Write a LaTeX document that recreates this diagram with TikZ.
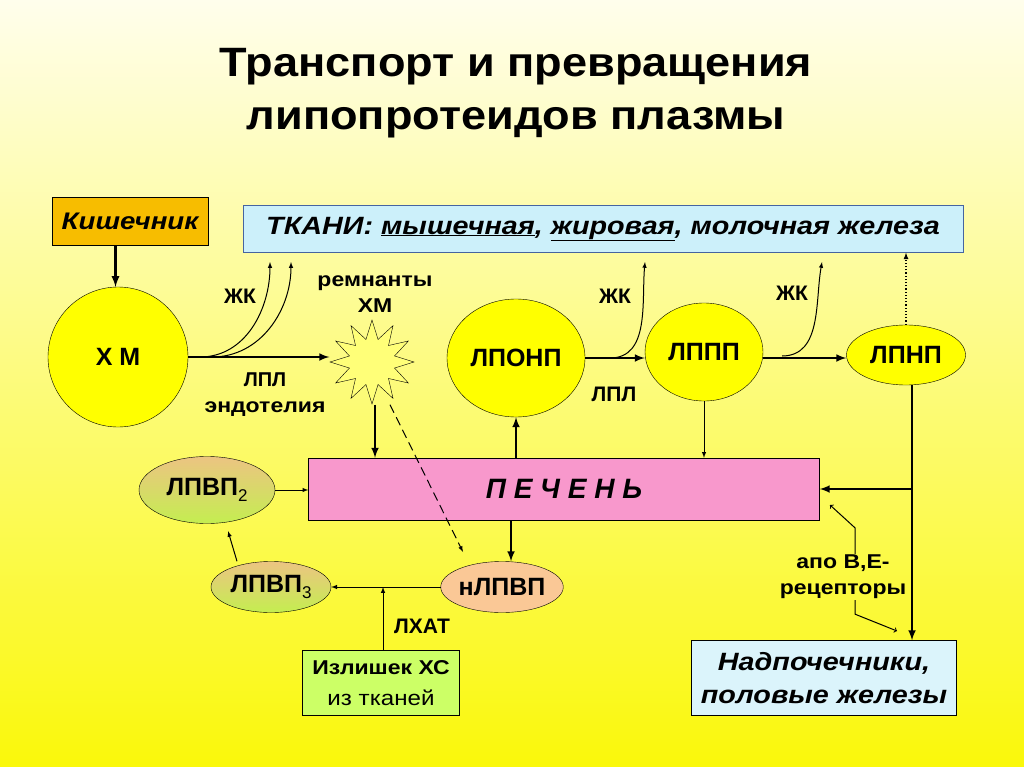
\documentclass[tikz,border=0pt]{standalone}
\usepackage{fontspec}
\setmainfont{Liberation Sans}[FakeStretch=1.15]
\newfontfamily\titlefont[FakeStretch=1.1]{Liberation Sans}
\newfontfamily\capsfont{Liberation Sans}
\usetikzlibrary{arrows,shapes.geometric,positioning}
\definecolor{bgtop}{RGB}{255,254,236}
\definecolor{bgbot}{RGB}{250,248,10}
\definecolor{lpyellow}{RGB}{255,255,0}
\definecolor{starfill}{RGB}{255,255,120}
\definecolor{kishfill}{RGB}{247,189,0}
\definecolor{tkanfill}{RGB}{204,240,250}
\definecolor{tkanline}{RGB}{70,100,160}
\definecolor{liverfill}{RGB}{248,152,204}
\definecolor{hdltop}{RGB}{236,196,130}
\definecolor{hdlbot}{RGB}{196,238,80}
\definecolor{peach}{RGB}{250,200,150}
\definecolor{izlfill}{RGB}{204,255,102}
\begin{document}
\begin{tikzpicture}[x=1pt,y=-1pt,>=latex,
    lbl/.style={font=\bfseries\fontsize{20}{26}\selectfont, align=center, inner sep=1pt},
    caplbl/.style={font=\capsfont\bfseries\fontsize{21}{26}\selectfont, inner sep=1pt},
    blob/.style={ellipse, draw, thin, inner sep=0pt, font=\capsfont\bfseries\fontsize{25}{28}\selectfont},
    panel/.style={rectangle, draw, thin, inner sep=0pt, align=center},
    fat/.style={line width=2.4pt, ->},
    slim/.style={line width=1pt, ->}]

    % background
    \shade[top color=bgtop, bottom color=bgbot] (0,0) rectangle (1024,767);
    \useasboundingbox (0,0) rectangle (1024,767);

    % title
    \node[anchor=base, font=\titlefont\bfseries\fontsize{41}{48}\selectfont] (title1) at (516,77) {Транспорт и превращения};
    \node[anchor=base, font=\titlefont\bfseries\fontsize{41}{48}\selectfont] (title2) at (516,130) {липопротеидов плазмы};

    % boxes
    \node[panel, fill=kishfill, minimum width=156pt, minimum height=48pt,
          font=\bfseries\itshape\fontsize{24}{26}\selectfont] (kish) at (130,221) {Кишечник};
    \node[panel, draw=tkanline, fill=tkanfill, minimum width=720pt, minimum height=47pt,
          font=\bfseries\itshape\fontsize{25}{26}\selectfont] (tkani) at (603,229)
          {ТКАНИ: \underline{мышечная}, \underline{жировая}, молочная железа};
    \node[panel, fill=liverfill, minimum width=511pt, minimum height=62pt,
          font=\capsfont\bfseries\itshape\fontsize{28}{30}\selectfont] (liver) at (564,489)
          {П Е Ч Е Н Ь};
    \node[panel, fill=izlfill, minimum width=157pt, minimum height=65pt,
          font=\fontsize{20}{31}\selectfont] (izl) at (381,683) {\textbf{Излишек ХС}\\\fontsize{21}{31}\selectfont из тканей};
    \node[panel, fill=tkanfill!70!white, minimum width=265pt, minimum height=75pt,
          font=\bfseries\itshape\fontsize{25}{33}\selectfont] (nadp) at (824,678) {Надпочечники,\\половые железы};

    % lipoproteins
    \node[blob, fill=lpyellow, minimum width=140pt, minimum height=140pt] (xm) at (118,357) {Х М};
    \node[star, star points=12, star point ratio=1.8, draw, thin, fill=starfill,
          minimum size=84pt, inner sep=0pt] (rem) at (372,362) {};
    \node[blob, fill=lpyellow, minimum width=138pt, minimum height=118pt] (lponp) at (516,358) {ЛПОНП};
    \node[blob, fill=lpyellow, minimum width=118pt, minimum height=98pt] (lppp) at (704,352) {ЛППП};
    \node[blob, fill=lpyellow, minimum width=119pt, minimum height=60pt] (lpnp) at (906,355) {ЛПНП};
    \node[blob, top color=hdltop, bottom color=hdlbot, minimum width=136pt, minimum height=67pt] (hdl2) at (207,490)
          {ЛПВП\raisebox{-6pt}{\mdseries\fontsize{17}{17}\selectfont 2}};
    \node[blob, top color=hdltop, bottom color=hdlbot, minimum width=120pt, minimum height=51pt] (hdl3) at (271,587)
          {ЛПВП\raisebox{-6pt}{\mdseries\fontsize{17}{17}\selectfont 3}};
    \node[blob, fill=peach, minimum width=120pt, minimum height=51pt] (nhdl) at (502,587) {нЛПВП};

    % labels
    \node[caplbl] (jk1) at (240,296) {ЖК};
    \node[lbl] (remlbl) at (375,294) {ремнанты\\ХМ};
    \node[lbl] (lplendo) at (265,395) {\capsfont ЛПЛ\\эндотелия};
    \node[caplbl] (jk2) at (615,296) {ЖК};
    \node[caplbl] (lpl) at (614,394) {ЛПЛ};
    \node[caplbl] (jk3) at (792,293) {ЖК};
    \node[caplbl] (lhat) at (422,626) {ЛХАТ};
    \node[lbl] (apo) at (843,577) {апо В,Е-\\рецепторы};

    % free ends
    \coordinate (fa1) at (200,357);
    \coordinate (fa2) at (212,357);
    \coordinate (ta1) at (270,262);
    \coordinate (ta2) at (291,262);
    \coordinate (fb) at (610,358);
    \coordinate (tb) at (645,262);
    \coordinate (fc) at (782,356);
    \coordinate (tc) at (822,262);
    \coordinate (up3) at (228,531);
    \coordinate (dashend) at (463,552);
    \coordinate (apoup) at (830,505);
    \coordinate (apodown) at (897,631);

    % connectors
    \draw[line width=2.6pt, ->] ([xshift=-2.5pt]xm.north |- kish.south) -- ([xshift=-2.5pt]xm.north);
    \draw[fat] (xm.east) -- (xm.east -| rem.west);
    \draw[slim] (fa1) to[out=0, in=-90] (ta1);
    \draw[slim] (fa2) to[out=0, in=-90] (ta2);
    \draw[fat] ([xshift=3pt]rem.south) -- ([xshift=3pt]rem.south |- liver.north);
    \draw[slim, dash pattern=on 9pt off 5pt] ([xshift=18pt]rem.south) -- (dashend);
    \draw[fat] (lponp.east) -- (lponp.east -| lppp.west);
    \draw[slim] (fb) to[out=0, in=-95] (tb);
    \draw[fat] (lppp.east |- lponp.east) -- (lponp.east -| lpnp.west);
    \draw[slim] (fc) to[out=0, in=-100] (tc);
    \draw[line width=1.2pt, ->, dotted] (lpnp.north) -- (lpnp.north |- tkani.south);
    \draw[fat] (liver.north -| lponp.south) -- (lponp.south);
    \draw[slim] (lppp.south) -- (lppp.south |- liver.north);
    \draw[fat] ([xshift=6pt]lpnp.south) -- ([xshift=6pt]lpnp.south |- nadp.north);
    \draw[fat] ([xshift=6pt]lpnp.south |- liver.east) -- (liver.east);
    \draw[slim] (hdl2.east) -- (hdl2.east -| liver.west);
    \draw[slim] ([xshift=-34pt]hdl3.north) -- (up3);
    \draw[fat] ([xshift=9pt]liver.south -| nhdl.north) -- ([xshift=9pt]nhdl.north);
    \draw[slim] (nhdl.west) -- (hdl3.east);
    \draw[slim] ([xshift=2pt]izl.north) -- ([xshift=2pt]izl.north |- nhdl.west);
    \draw[line width=1pt, -to] ([xshift=12pt]apo.north) -- ++(0,-26) -- (apoup);
    \draw[line width=1pt, -to] ([xshift=12pt]apo.south) -- ++(0,14) -- (apodown);

\end{tikzpicture}
\end{document}
